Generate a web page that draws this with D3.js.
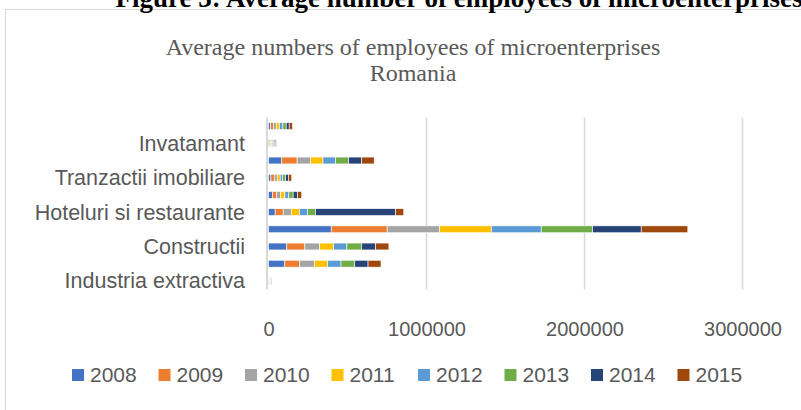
<!DOCTYPE html>
<html>
<head>
<meta charset="utf-8">
<script src="https://cdn.jsdelivr.net/npm/d3@7"></script>
<style>
  body { margin: 0; background: #fff; }
  svg { display: block; }
</style>
</head>
<body>
<svg id="chart" width="801" height="410"></svg>
<script>
// categories from bottom to top, only every other one is labelled (as in Excel)
const categories = [
  "Industria extractiva",
  "Industria prelucratoare",
  "Constructii",
  "Comert",
  "Hoteluri si restaurante",
  "Transport si depozitare",
  "Tranzactii imobiliare",
  "Activitati profesionale",
  "Invatamant",
  "Sanatate si asistenta sociala"
];
const years = ["2008", "2009", "2010", "2011", "2012", "2013", "2014", "2015"];

// one array per category, values for 2008..2015
const industriaExtractiva = [2600, 2500, 2400, 2300, 2300, 2400, 2300, 2300];
const industriaPrelucratoare = [103000, 95000, 93000, 84000, 84000, 87000, 84000, 82000];
const constructii = [116000, 114000, 93000, 89000, 84000, 93000, 89000, 84000];
const comert = [397000, 354000, 331000, 329000, 315000, 325000, 308000, 295000];
const hoteluri = [42000, 51000, 51000, 51000, 51000, 51000, 508000, 51000];
const transport = [25000, 27000, 25000, 27000, 25000, 27000, 27000, 27000];
const tranzactii = [15000, 25000, 16000, 18000, 16000, 18000, 18000, 21000];
const profesionale = [84000, 97000, 84000, 80000, 80000, 82000, 82000, 80000];
const invatamant = [6000, 6000, 6000, 6000, 6500, 6500, 6500, 6500];
const sanatate = [13000, 19000, 17000, 21000, 21000, 21000, 19000, 21000];

const xTicks = [0, 1000000, 2000000, 3000000];
const colors = ["#4472C4", "#ED7D31", "#A5A5A5", "#FFC000", "#5B9BD5", "#70AD47", "#264478", "#9E480E"];

const rows = [industriaExtractiva, industriaPrelucratoare, constructii, comert, hoteluri,
              transport, tranzactii, profesionale, invatamant, sanatate];

const table = categories.map((c, i) => {
  const o = { cat: c };
  years.forEach((y, j) => o[y] = rows[i][j]);
  return o;
});

const svg = d3.select("#chart");
const font = "'Liberation Sans', Arial, sans-serif";
const grey = "#595959";

// chart frame
svg.append("rect")
  .attr("x", 5.5).attr("y", 9.5)
  .attr("width", 820).attr("height", 420)
  .attr("fill", "#fff").attr("stroke", "#d9d9d9");

// figure caption (cut at top, as in the source page)
svg.append("text")
  .attr("x", 459).attr("y", 7)
  .attr("text-anchor", "middle")
  .attr("font-family", "'Liberation Serif', 'Times New Roman', serif")
  .attr("font-weight", "bold")
  .attr("font-size", 27)
  .text("Figure 3: Average number of employees of microenterprises");

// chart title
const title = svg.append("text")
  .attr("text-anchor", "middle")
  .attr("font-family", "'Liberation Serif', 'Times New Roman', serif")
  .attr("font-size", 24)
  .attr("fill", grey);
title.append("tspan").attr("x", 413).attr("y", 55).text("Average numbers of employees of microenterprises");
title.append("tspan").attr("x", 413).attr("y", 81).text("Romania");

const x = d3.scaleLinear().domain([0, 3000000]).range([268.5, 742.5]);
const y = d3.scaleBand().domain(categories).range([289.5, 117.5]).paddingInner(0.6).paddingOuter(0.3);

// gridlines
svg.append("g")
  .selectAll("line")
  .data(xTicks.slice(1))
  .join("line")
  .attr("x1", d => x(d)).attr("x2", d => x(d))
  .attr("y1", 117.5).attr("y2", 289.5)
  .attr("stroke", "#d9d9d9").attr("stroke-width", 1.5);

// stacked bars
const stack = d3.stack().keys(years)(table);
svg.append("g")
  .selectAll("g")
  .data(stack)
  .join("g")
  .attr("fill", (d, i) => colors[i])
  .selectAll("rect")
  .data(d => d)
  .join("rect")
  .attr("x", d => x(d[0]))
  .attr("width", d => Math.max(0, x(d[1]) - x(d[0])))
  .attr("y", d => y(d.data.cat))
  .attr("height", y.bandwidth())
  .attr("stroke", "#fff")
  .attr("stroke-width", 0.6);

// vertical category axis line
svg.append("line")
  .attr("x1", 267).attr("x2", 267)
  .attr("y1", 117.5).attr("y2", 289.5)
  .attr("stroke", "#d9d9d9").attr("stroke-width", 2);

// category labels (every other one)
svg.append("g")
  .selectAll("text")
  .data(categories.filter((c, i) => i % 2 === 0))
  .join("text")
  .attr("x", 245)
  .attr("y", d => y(d) + y.bandwidth() / 2)
  .attr("dy", "0.35em")
  .attr("text-anchor", "end")
  .attr("font-family", font)
  .attr("font-size", 21.5)
  .attr("fill", grey)
  .text(d => d);

// value axis labels
const xAxis = svg.append("g")
  .attr("transform", "translate(0,300)")
  .call(d3.axisBottom(x).tickValues(xTicks).tickFormat(d3.format("d")).tickSize(0).tickPadding(22));
xAxis.select(".domain").remove();
xAxis.selectAll("text")
  .attr("font-family", font)
  .attr("font-size", 20)
  .attr("fill", grey);

// legend
const legend = svg.append("g")
  .selectAll("g")
  .data(years)
  .join("g")
  .attr("transform", (d, i) => `translate(${72 + i * 86.5},375)`);
legend.append("rect")
  .attr("x", 0).attr("y", -6)
  .attr("width", 12).attr("height", 12)
  .attr("fill", (d, i) => colors[i]);
legend.append("text")
  .attr("x", 18).attr("y", 0)
  .attr("dy", "0.35em")
  .attr("font-family", font)
  .attr("font-size", 21)
  .attr("fill", grey)
  .text(d => d);
</script>
</body>
</html>
